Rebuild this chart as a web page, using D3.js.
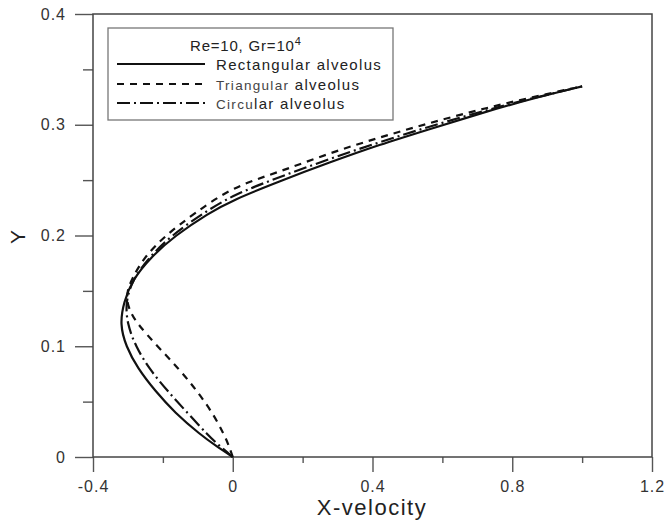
<!DOCTYPE html>
<meta charset="utf-8">
<html>
<head>
  <style>
    body { margin: 0; background: #fff; }
    text { font-family: "Liberation Sans", Arial, sans-serif; fill: #222; }
    .frame { fill: none; stroke: #444; stroke-width: 1.5px; }
    .axis path { display: none; }
    .axis line { stroke: #555; stroke-width: 1.4px; }
    .axis text { font-size: 16px; letter-spacing: 1px; fill: #333; }
    .curve { fill: none; stroke: #111; stroke-width: 2.2px; }
  </style>
</head>
<body>
  <script src="https://cdn.jsdelivr.net/npm/d3@7"></script>
  <script>
    // velocity profiles (Y, X-velocity)
    var rectY = [0, 0.01, 0.02, 0.04, 0.06, 0.08, 0.10, 0.12, 0.14, 0.16, 0.18, 0.20, 0.22, 0.232, 0.249, 0.266, 0.282, 0.296, 0.310, 0.323, 0.3347];
    var rectX = [0, -0.048, -0.092, -0.166, -0.223, -0.272, -0.306, -0.323, -0.312, -0.287, -0.236, -0.165, -0.07, 0, 0.134, 0.277, 0.42, 0.563, 0.706, 0.849, 1.0];

    var triY = [0, 0.01, 0.02, 0.04, 0.06, 0.08, 0.10, 0.12, 0.13, 0.14, 0.15, 0.16, 0.18, 0.20, 0.22, 0.244, 0.2574, 0.2745, 0.2885, 0.3016, 0.3136, 0.3244, 0.3347];
    var triX = [0, -0.011, -0.024, -0.058, -0.103, -0.155, -0.216, -0.272, -0.292, -0.303, -0.302, -0.29, -0.255, -0.193, -0.11, 0, 0.134, 0.277, 0.42, 0.563, 0.706, 0.849, 1.0];

    var circY = [0, 0.01, 0.02, 0.04, 0.06, 0.08, 0.10, 0.12, 0.14, 0.16, 0.18, 0.20, 0.22, 0.2366, 0.2528, 0.2692, 0.2843, 0.2984, 0.3115, 0.3233, 0.3347];
    var circX = [0, -0.038, -0.072, -0.13, -0.188, -0.24, -0.278, -0.302, -0.307, -0.287, -0.24, -0.176, -0.085, 0, 0.134, 0.277, 0.42, 0.563, 0.706, 0.849, 1.0];

    var xMajor = [-0.4, 0, 0.4, 0.8, 1.2];
    var xMinor = [-0.2, 0.2, 0.6, 1.0];
    var yMajor = [0, 0.1, 0.2, 0.3, 0.4];
    var yMinor = [0.05, 0.15, 0.25, 0.35];

    var seriesNames = ["Rectangular alveolus", "Triangular alveolus", "Circular alveolus"];
    var dashes = [null, "7,6", "13,4,2,4"];

    var margin = { top: 14, left: 93 };
    var width = 559, height = 443;

    var svg = d3.select("body").append("svg")
      .attr("width", 666)
      .attr("height", 522);

    var g = svg.append("g")
      .attr("transform", "translate(" + margin.left + "," + margin.top + ")");

    var x = d3.scaleLinear().domain([-0.4, 1.2]).range([0, width]);
    var y = d3.scaleLinear().domain([0, 0.4]).range([height, 0]);

    function fmt(d) { return d === 0 ? "0" : String(d); }

    // ticks
    g.append("g").attr("class", "axis")
      .call(d3.axisLeft(y).tickValues(yMajor).tickSize(18).tickPadding(9).tickFormat(fmt));
    g.append("g").attr("class", "axis")
      .call(d3.axisLeft(y).tickValues(yMinor).tickSize(10).tickFormat(""));
    g.append("g").attr("class", "axis")
      .attr("transform", "translate(0," + height + ")")
      .call(d3.axisBottom(x).tickValues(xMajor).tickSize(15).tickPadding(9).tickFormat(fmt));
    g.append("g").attr("class", "axis")
      .attr("transform", "translate(0," + height + ")")
      .call(d3.axisBottom(x).tickValues(xMinor).tickSize(6).tickFormat(""));

    g.append("rect").attr("class", "frame")
      .attr("x", 0).attr("y", 0)
      .attr("width", width).attr("height", height);

    // curves (basis spline smooths the hand-read points)
    var line = d3.line()
      .x(function(d) { return x(d[0]); })
      .y(function(d) { return y(d[1]); })
      .curve(d3.curveBasis);

    var series = [d3.zip(rectX, rectY), d3.zip(triX, triY), d3.zip(circX, circY)];

    g.selectAll(".curve")
      .data(series)
      .enter().append("path")
      .attr("class", "curve")
      .attr("d", line)
      .attr("stroke-dasharray", function(d, i) { return dashes[i]; });

    // axis titles
    svg.append("text")
      .attr("x", 372).attr("y", 515)
      .attr("text-anchor", "middle")
      .attr("font-size", 22).attr("letter-spacing", 1.5)
      .text("X-velocity");

    svg.append("text")
      .attr("transform", "translate(25,237) rotate(-90)")
      .attr("text-anchor", "middle")
      .attr("font-size", 21)
      .text("Y");

    // legend
    var legend = svg.append("g");
    legend.append("rect")
      .attr("x", 108).attr("y", 28)
      .attr("width", 285).attr("height", 92)
      .attr("fill", "#fff").attr("stroke", "#777").attr("stroke-width", 1.3);

    var title = legend.append("text")
      .attr("x", 190).attr("y", 51)
      .attr("font-size", 15).attr("letter-spacing", 0.8);
    title.append("tspan").text("Re=10, Gr=10");
    title.append("tspan").attr("dy", -6).attr("font-size", 11).text("4");

    var rowY = [64, 84, 103];
    // parts of each label: the scan shows the first part of two labels lighter and smaller
    var labelParts = [
      [["Rectangular alveolus", 15, "#222"]],
      [["Triangular", 13.5, "#444"], [" alveolus", 15, "#222"]],
      [["Circu", 13.5, "#444"], ["lar alveolus", 15, "#222"]]
    ];

    seriesNames.forEach(function(name, i) {
      legend.append("line")
        .attr("x1", 117).attr("x2", 205)
        .attr("y1", rowY[i]).attr("y2", rowY[i])
        .attr("stroke", "#111").attr("stroke-width", 2.2)
        .attr("stroke-dasharray", dashes[i]);
      var t = legend.append("text")
        .attr("x", 216).attr("y", rowY[i] + 6)
        .attr("letter-spacing", 1.3);
      labelParts[i].forEach(function(p) {
        t.append("tspan").attr("font-size", p[1]).style("fill", p[2]).text(p[0]);
      });
    });
  </script>
</body>
</html>
